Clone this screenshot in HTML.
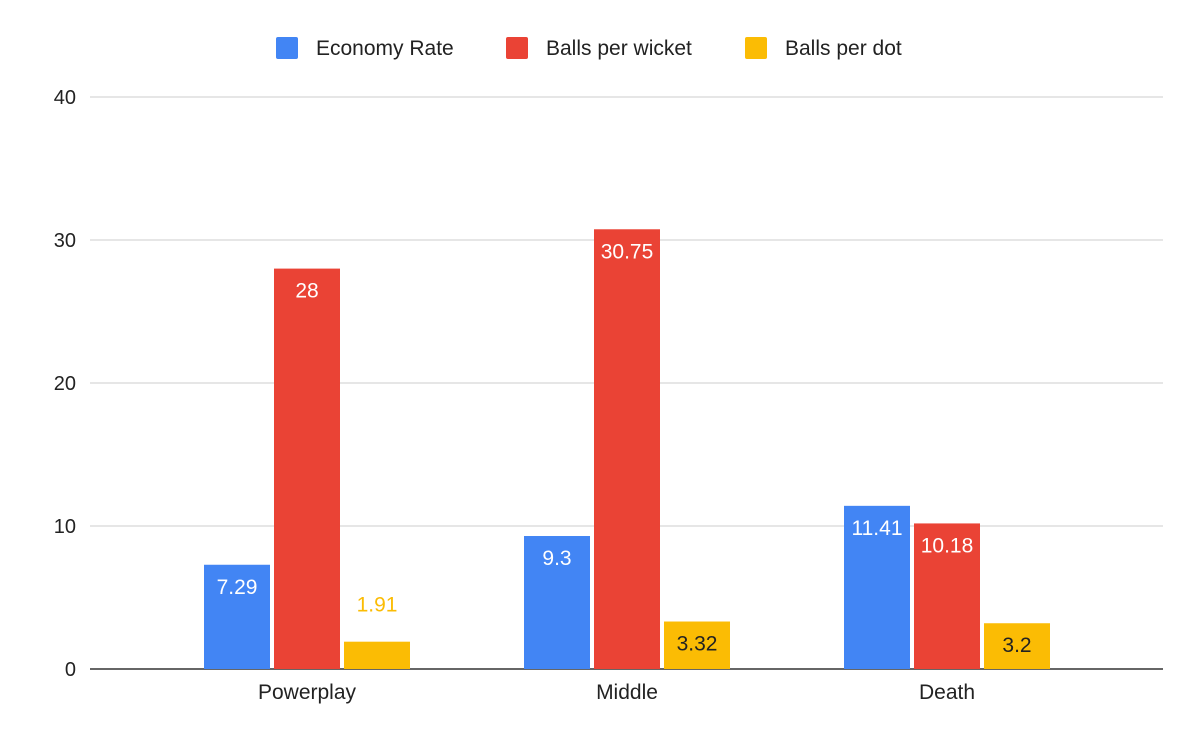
<!DOCTYPE html>
<html><head><meta charset="utf-8"><style>
body{margin:0;background:#fff;font-family:"Liberation Sans",Arial,sans-serif}
svg text{font-family:"Liberation Sans",Arial,sans-serif}
</style></head><body>
<svg id="chart" width="1200" height="742" xmlns="http://www.w3.org/2000/svg">
<g id="legend">
<g><rect x="276" y="37" width="22" height="22" rx="2" fill="#4285f4"/><text x="316" y="55" font-size="21" fill="#222">Economy Rate</text></g>
<g><rect x="506" y="37" width="22" height="22" rx="2" fill="#ea4335"/><text x="546" y="55" font-size="21" fill="#222">Balls per wicket</text></g>
<g><rect x="745" y="37" width="22" height="22" rx="2" fill="#fbbc04"/><text x="785" y="55" font-size="21" fill="#222">Balls per dot</text></g>
</g>
<g id="grid"></g><g id="bars"></g><g id="xlabels"></g>
</svg>
<script>
const categories=["Powerplay","Middle","Death"];
const economyRate=[7.29,9.3,11.41];
const ballsPerWicket=[28,30.75,10.18];
const ballsPerDot=[1.91,3.32,3.2];
const yTicks=[0,10,20,30,40];
const NS="http://www.w3.org/2000/svg";
const y0=669,pxPer=14.3;
const y=v=>y0-v*pxPer;
const xc=i=>307+i*320;
const svg=document.getElementById('chart');
const grid=document.getElementById('grid'),bars=document.getElementById('bars'),xl=document.getElementById('xlabels');
function mk(tag,attrs,parent,txt){const e=document.createElementNS(NS,tag);for(const k in attrs)e.setAttribute(k,attrs[k]);if(txt!==undefined)e.textContent=txt;parent.appendChild(e);return e;}
yTicks.forEach(t=>{
 const l=mk('line',{x1:90,x2:1163,y1:y(t),y2:y(t),stroke:t===0?'#333':'#ccc','stroke-width':t===0?1.5:1},grid);
 
 
 const tx=mk('text',{x:76,y:y(t)+7,'text-anchor':'end','font-size':20,fill:'#222'},grid,String(t));
 
 
});
const series=[{d:economyRate,c:'#4285f4',n:'economy-rate',lc:'#fff'},{d:ballsPerWicket,c:'#ea4335',n:'balls-per-wicket',lc:'#fff'},{d:ballsPerDot,c:'#fbbc04',n:'balls-per-dot',lc:'#222'}];
categories.forEach((cat,i)=>{
 series.forEach((s,j)=>{
  const v=s.d[i],x=xc(i)-103+j*70,top=y(v);
  const r=mk('rect',{x:x,y:top,width:66,height:y0-top,fill:s.c},bars);
  
  
  const h=y0-top,inside=h>30;
  const t=mk('text',{x:x+33,y:inside?top+29:top-30,'text-anchor':'middle','font-size':21,fill:inside?s.lc:s.c},bars,String(v));
  
  
 });
 const t=mk('text',{x:xc(i),y:699,'text-anchor':'middle','font-size':21,fill:'#222'},xl,cat);
 
 
});
</script>
</body></html>
